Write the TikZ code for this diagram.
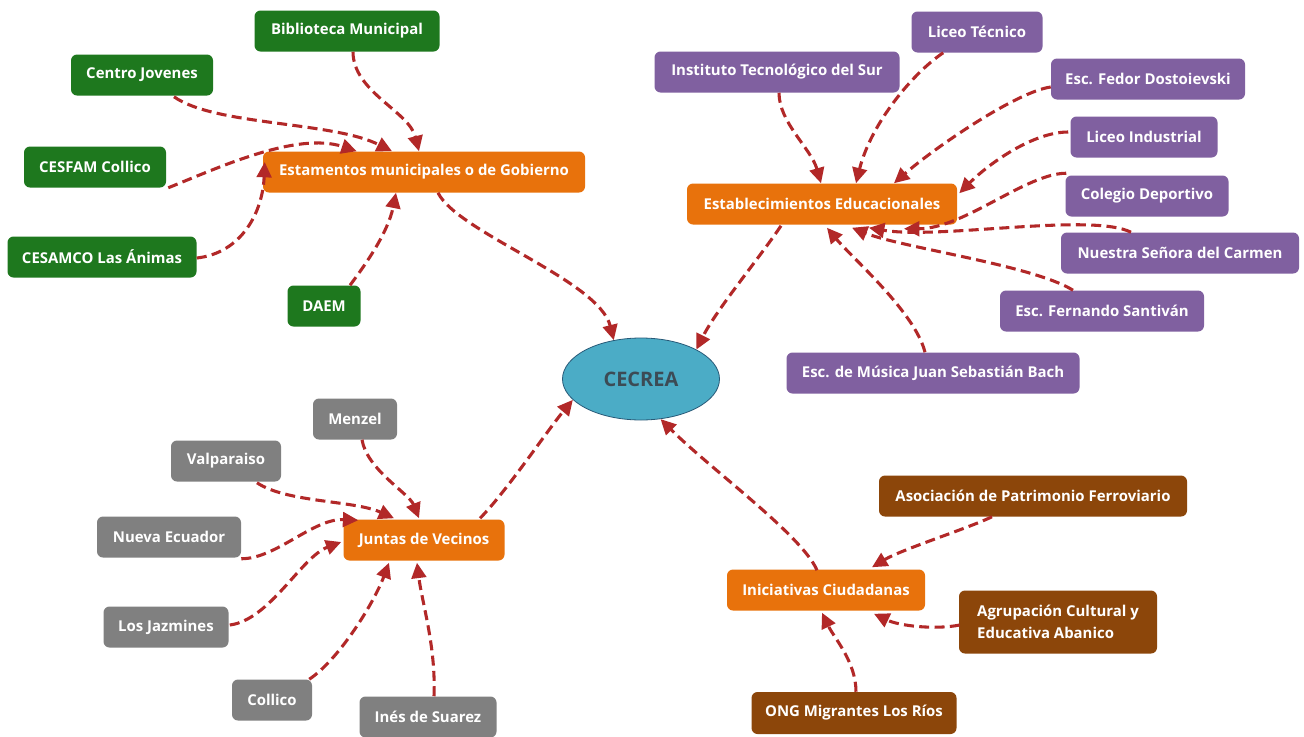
\documentclass[tikz,border=0pt]{standalone}
\usepackage{fontspec}
\setmainfont{Open Sans}
\usetikzlibrary{arrows.meta,shapes.geometric,calc}
\definecolor{gr}{RGB}{30,120,30}
\definecolor{org}{RGB}{232,114,12}
\definecolor{pur}{RGB}{128,96,160}
\definecolor{gry}{RGB}{128,128,128}
\definecolor{brn}{RGB}{140,70,10}
\definecolor{ell}{RGB}{75,172,198}
\definecolor{ellb}{RGB}{40,90,120}
\definecolor{ctext}{RGB}{60,75,85}
\definecolor{ed}{RGB}{178,40,40}
\begin{document}
\begin{tikzpicture}[x=0.75pt,y=-0.75pt,
  box/.style={rectangle,rounded corners=4.5pt,text=white,font=\bfseries\fontsize{11.2}{13.5}\selectfont,inner sep=0pt,minimum height=41*0.75pt,align=center},
  gbox/.style={box,fill=gr},
  obox/.style={box,fill=org},
  pbox/.style={box,fill=pur},
  ybox/.style={box,fill=gry},
  bbox/.style={box,fill=brn},
  edge/.style={draw=ed,line width=2.3pt,dash pattern=on 7.5pt off 4pt,-{Triangle[length=11.5pt,width=11pt]}}]
\useasboundingbox[fill=white] (0,0) rectangle (1304,736);

% centre
\node[ellipse,fill=ell,draw=ellb,line width=0.6pt,inner sep=0pt,minimum width=157*0.75pt,minimum height=82*0.75pt,text=ctext,font=\bfseries\fontsize{15}{17}\selectfont] (cec) at (641,379) {CECREA};

% hubs
\node[obox,minimum width=322*0.75pt] (est) at (424,172) {Estamentos municipales o de Gobierno};
\node[obox,minimum width=270*0.75pt] (edu) at (822,204) {Establecimientos Educacionales};
\node[obox,minimum width=161*0.75pt] (jun) at (424,540) {Juntas de Vecinos};
\node[obox,minimum width=198*0.75pt] (ini) at (826,590) {Iniciativas Ciudadanas};

% green
\node[gbox,minimum width=185*0.75pt] (bib) at (347,31) {Biblioteca Municipal};
\node[gbox,minimum width=142*0.75pt] (cj) at (142,75) {Centro Jovenes};
\node[gbox,minimum width=142*0.75pt] (cesfam) at (95,167) {CESFAM Collico};
\node[gbox,minimum width=189*0.75pt] (cesamco) at (102,257) {CESAMCO Las Ánimas};
\node[gbox,minimum width=73*0.75pt] (daem) at (324,306) {DAEM};

% purple
\node[pbox,minimum width=245*0.75pt] (inst) at (777,72) {Instituto Tecnológico del Sur};
\node[pbox,minimum width=131*0.75pt] (lt) at (977,32) {Liceo Técnico};
\node[pbox,minimum width=194*0.75pt] (fed) at (1148,79) {Esc. Fedor Dostoievski};
\node[pbox,minimum width=147*0.75pt] (li) at (1144,137) {Liceo Industrial};
\node[pbox,minimum width=163*0.75pt] (cd) at (1147,196) {Colegio Deportivo};
\node[pbox,minimum width=238*0.75pt] (nsc) at (1180,253) {Nuestra Señora del Carmen};
\node[pbox,minimum width=204*0.75pt] (fs) at (1102,311) {Esc. Fernando Santiván};
\node[pbox,minimum width=293*0.75pt] (bach) at (933,373) {Esc. de Música Juan Sebastián Bach};

% gray
\node[ybox,minimum width=84*0.75pt] (menzel) at (355,419) {Menzel};
\node[ybox,minimum width=110*0.75pt] (valp) at (226,461) {Valparaiso};
\node[ybox,minimum width=144*0.75pt] (nueva) at (169,537) {Nueva Ecuador};
\node[ybox,minimum width=125*0.75pt] (jaz) at (166,627) {Los Jazmines};
\node[ybox,minimum width=80*0.75pt] (collico) at (272,700) {Collico};
\node[ybox,minimum width=137*0.75pt] (ines) at (428,717) {Inés de Suarez};

% brown
\node[bbox,minimum width=308*0.75pt] (aso) at (1033,496) {Asociación de Patrimonio Ferroviario};
\node[bbox,minimum width=198*0.75pt,minimum height=63*0.75pt,align=left,font=\bfseries\fontsize{11.2}{17}\selectfont] (agr) at (1058,622) {Agrupación Cultural y\\Educativa Abanico};
\node[bbox,minimum width=205*0.75pt,minimum height=42*0.75pt] (ong) at (854,713) {ONG Migrantes Los Ríos};

% edges: municipal
\draw[edge] ($(bib.south)+(6,0)$) .. controls +(0,40) and +(-10,-40) .. ($(est.north)+(-5,0)$);
\draw[edge] ($(cj.south)+(32,1)$) .. controls +(41,29) and +(-60,-30) .. ($(est.north)+(-32,0)$);
\draw[edge] ($(cesfam.south east)+(2,0)$) .. controls +(50,-20) and +(-60,-20) .. ($(est.north west)+(94,0)$);
\draw[edge] ($(cesamco.east)+(0,1)$) .. controls +(45,-5) and +(-2,50) .. ($(est.west)+(2,-10)$);
\draw[edge] ($(daem.north)+(26,0)$) .. controls +(15,-20) and +(-8,40) .. ($(est.south)+(-28,0)$);
\draw[edge] ($(est.south)+(14,0)$) .. controls +(20,40) and +(-15,-60) .. (cec.125);

% edges: educational
\draw[edge] ($(inst.south)+(2,0)$) .. controls +(0,30) and +(-10,-35) .. ($(edu.north)+(-1,0)$);
\draw[edge] ($(lt.south west)+(32,0)$) .. controls +(-30,20) and +(15,-60) .. ($(edu.north)+(34,0)$);
\draw[edge] ($(fed.west)+(0,8)$) .. controls +(-35,5) and +(40,-35) .. ($(edu.north)+(72,0)$);
\draw[edge] ($(li.west)+(-2,-5)$) .. controls +(-35,0) and +(30,-30) .. ($(edu.north east)+(2,10)$);
\draw[edge] ($(cd.north west)+(1,-2)$) .. controls +(-40,0) and +(60,0) .. ($(edu.south)+(82,4)$);
\draw[edge] ($(nsc.north)+(-49,0)$) .. controls +(-40,-20) and +(70,12) .. ($(edu.south)+(47,3)$);
\draw[edge] ($(fs.north)+(-29,0)$) .. controls +(-40,-25) and +(50,20) .. ($(edu.south)+(30,3)$);
\draw[edge] ($(bach.north)+(-8,0)$) .. controls +(-10,-40) and +(25,30) .. ($(edu.south)+(5,3)$);
\draw[edge] ($(edu.south)+(-41,1)$) .. controls +(-20,30) and +(20,-40) .. (cec.28);

% edges: juntas
\draw[edge] ($(menzel.south)+(7,0)$) .. controls +(5,30) and +(-10,-25) .. ($(jun.north)+(-5,-1)$);
\draw[edge] ($(valp.south)+(31,1)$) .. controls +(30,20) and +(-40,-18) .. ($(jun.north)+(-30,-1)$);
\draw[edge] ($(nueva.south east)+(0,1)$) .. controls +(35,0) and +(-45,-2) .. ($(jun.north west)+(15,1)$);
\draw[edge] ($(jaz.east)+(1,-2)$) .. controls +(40,-5) and +(-40,15) .. ($(jun.west)+(-2,2)$);
\draw[edge] ($(collico.north east)+(-3,0)$) .. controls +(30,-20) and +(-15,40) .. ($(jun.south)+(-35,2)$);
\draw[edge] ($(ines.north)+(6,0)$) .. controls +(2,-50) and +(5,40) .. ($(jun.south)+(-7,2)$);
\draw[edge] ($(jun.north)+(56,-1)$) .. controls +(25,-25) and +(-25,30) .. (cec.197);

% edges: iniciativas
\draw[edge] ($(aso.south)+(-41,0)$) .. controls +(-25,12) and +(30,-18) .. ($(ini.north)+(46,-2)$);
\draw[edge] ($(agr.west)+(1,3)$) .. controls +(-25,5) and +(25,12) .. ($(ini.south)+(48,3)$);
\draw[edge] ($(ong.north)+(2,0)$) .. controls +(0,-30) and +(12,25) .. ($(ini.south)+(-4,2)$);
\draw[edge] ($(ini.north)+(-9,1)$) .. controls +(-15,-35) and +(50,50) .. (cec.296);
\end{tikzpicture}
\end{document}
